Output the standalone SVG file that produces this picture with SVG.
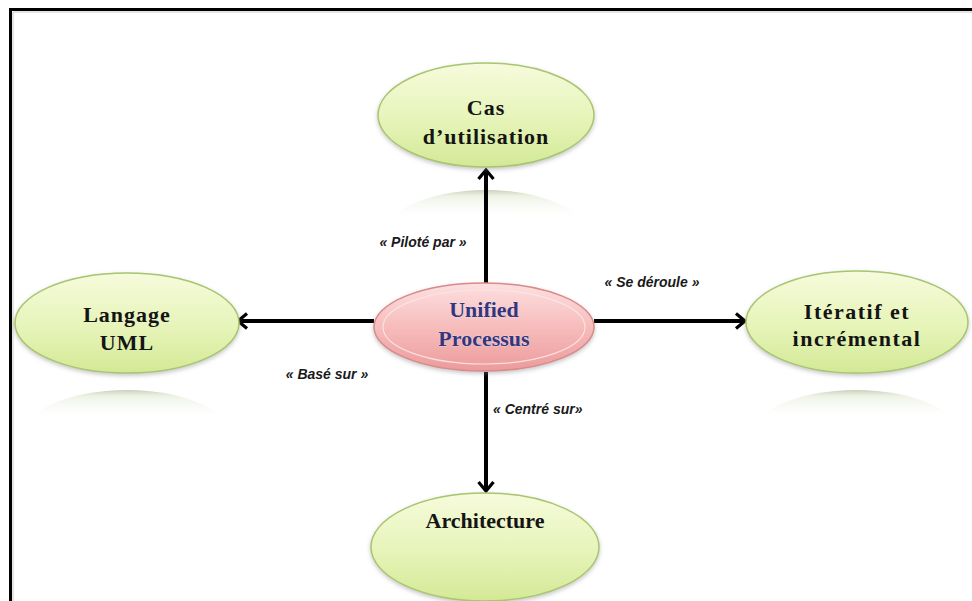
<svg xmlns="http://www.w3.org/2000/svg" width="972" height="601" viewBox="0 0 972 601">
  <defs>
    <style>
      .node-text { font-family: "Liberation Serif", "Times New Roman", serif; font-weight: bold; font-size: 22px; fill: #141414; text-anchor: middle; }
      .core-text { font-family: "Liberation Serif", "Times New Roman", serif; font-weight: bold; font-size: 22px; fill: #36357c; stroke: #e6e6f2; stroke-width: 0.6; text-anchor: middle; paint-order: stroke; }
      .label { font-family: "Liberation Sans", Arial, sans-serif; font-weight: bold; font-style: italic; font-size: 14px; fill: #1a1a1a; }
      .green { fill: url(#greenFill); stroke: #a9c56f; stroke-width: 1.5; filter: url(#soft); }
      .link { stroke: #000; stroke-width: 4; fill: none; marker-end: url(#chev); }
    </style>
    <linearGradient id="greenFill" x1="0" y1="0" x2="0" y2="1">
      <stop offset="0" stop-color="#f6fbdc"/>
      <stop offset="0.55" stop-color="#e6f4b8"/>
      <stop offset="1" stop-color="#d3e996"/>
    </linearGradient>
    <linearGradient id="pinkFill" x1="0" y1="0" x2="0" y2="1">
      <stop offset="0" stop-color="#fde0e0"/>
      <stop offset="0.5" stop-color="#f7bcbc"/>
      <stop offset="1" stop-color="#ec9b9b"/>
    </linearGradient>
    <linearGradient id="reflFill" x1="0" y1="0" x2="0" y2="1">
      <stop offset="0" stop-color="#b9c3a8" stop-opacity="0.8"/>
      <stop offset="0.06" stop-color="#dfe8cf" stop-opacity="0.55"/>
      <stop offset="0.3" stop-color="#ffffff" stop-opacity="0"/>
    </linearGradient>
    <filter id="soft" x="-10%" y="-10%" width="120%" height="130%">
      <feDropShadow dx="0" dy="2" stdDeviation="2" flood-color="#808080" flood-opacity="0.45"/>
    </filter>
    <marker id="chev" viewBox="0 0 18 18" refX="15" refY="9" markerWidth="18" markerHeight="18" markerUnits="userSpaceOnUse" orient="auto">
      <path d="M6,1.5 L15,9 L6,16.5" fill="none" stroke="#000" stroke-width="3.2"/>
    </marker>
  </defs>

  <rect width="972" height="601" fill="#ffffff"/>

  <!-- frame -->
  <path d="M10.5,601 V9.5 H972" fill="none" stroke="#000" stroke-width="3"/>
  <path d="M13,601 V12 H972" fill="none" stroke="#c8c8c8" stroke-width="1"/>

  <!-- reflections beneath the outer nodes -->
  <g id="reflections">
    <ellipse cx="486" cy="240" rx="106" ry="50" fill="url(#reflFill)"/>
    <ellipse cx="127" cy="440" rx="108" ry="50" fill="url(#reflFill)"/>
    <ellipse cx="856" cy="440" rx="108" ry="50" fill="url(#reflFill)"/>
  </g>

  <!-- connectors -->
  <g id="connectors">
    <line class="link" x1="486" y1="283" x2="486" y2="170"/>
    <line class="link" x1="374" y1="321" x2="238" y2="321"/>
    <line class="link" x1="594" y1="321" x2="745" y2="321"/>
    <line class="link" x1="486" y1="372" x2="486" y2="491"/>
    <text class="label" x="423" y="247" text-anchor="middle">« Piloté par »</text>
    <text class="label" x="652" y="287" text-anchor="middle">« Se déroule »</text>
    <text class="label" x="327" y="379" text-anchor="middle">« Basé sur »</text>
    <text class="label" x="493" y="414">« Centré sur»</text>
  </g>

  <g id="node-cas">
    <ellipse class="green" cx="486" cy="115" rx="108" ry="52"/>
    <text class="node-text" x="486" y="115" letter-spacing="1">Cas</text>
    <text class="node-text" x="486" y="144" letter-spacing="1">d’utilisation</text>
  </g>

  <g id="node-up">
    <ellipse cx="484" cy="327" rx="110" ry="44" fill="url(#pinkFill)" stroke="#d98a8a" stroke-width="1.5" filter="url(#soft)"/>
    <ellipse cx="484" cy="327" rx="101" ry="37" fill="none" stroke="#fbe6e6" stroke-width="1.2" opacity="0.9"/>
    <text class="core-text" x="484" y="317">Unified</text>
    <text class="core-text" x="484" y="346">Processus</text>
  </g>

  <g id="node-uml">
    <ellipse class="green" cx="127" cy="323" rx="112" ry="50"/>
    <text class="node-text" x="127" y="322" letter-spacing="1">Langage</text>
    <text class="node-text" x="127" y="350" letter-spacing="1">UML</text>
  </g>

  <g id="node-iteratif">
    <ellipse class="green" cx="857" cy="322" rx="111" ry="51"/>
    <text class="node-text" x="857" y="319" letter-spacing="1.5">Itératif  et</text>
    <text class="node-text" x="857" y="346" letter-spacing="1.5">incrémental</text>
  </g>

  <g id="node-architecture">
    <ellipse class="green" cx="485" cy="547" rx="114" ry="54"/>
    <text class="node-text" x="485" y="528">Architecture</text>
  </g>
</svg>
